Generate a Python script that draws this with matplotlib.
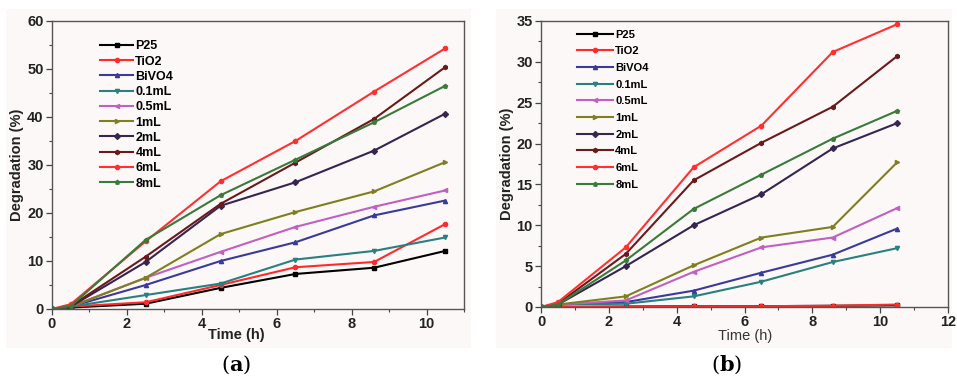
import matplotlib
matplotlib.use("Agg")
import matplotlib.pyplot as plt
from matplotlib.ticker import MultipleLocator
from matplotlib.patches import Rectangle

plt.rcParams['font.family'] = ['Liberation Sans', 'DejaVu Sans']
plt.rcParams['mathtext.fontset'] = 'dejavuserif'

time_a = [0, 0.5, 2.5, 4.5, 6.5, 8.6, 10.5]
time_b = [0, 0.5, 2.5, 4.5, 6.5, 8.6, 10.5]

labels = ["P25", "TiO2", "BiVO4", "0.1mL", "0.5mL", "1mL", "2mL", "4mL", "6mL", "8mL"]
colors = ["#000000", "#ff2a2a", "#3a3a9a", "#2a7f7f", "#c060c0", "#7f7f20",
          "#35254f", "#6a1a1a", "#ff3030", "#3a7a3a"]
markers = ["s", "o", "^", "v", "<", ">", "D", "h", "o", "p"]

# Panel (a) degradation (%)
a_P25 = [0, 0.3, 1.1, 4.4, 7.3, 8.6, 12.1]
a_TiO2 = [0, 0.5, 1.4, 5.0, 8.7, 9.8, 17.7]
a_BiVO4 = [0, 0.5, 5.0, 10.0, 13.9, 19.5, 22.6]
a_01 = [0, 0.5, 2.9, 5.3, 10.3, 12.1, 14.9]
a_05 = [0, 0.5, 6.5, 11.9, 17.1, 21.3, 24.7]
a_1 = [0, 0.5, 6.5, 15.6, 20.2, 24.5, 30.6]
a_2 = [0, 0.5, 9.8, 21.5, 26.4, 33.0, 40.7]
a_4 = [0, 0.6, 10.9, 21.9, 30.5, 39.6, 50.4]
a_6 = [0, 1.0, 14.1, 26.6, 35.0, 45.3, 54.3]
a_8 = [0, 0.6, 14.4, 23.7, 31.1, 38.9, 46.5]
series_a = [a_P25, a_TiO2, a_BiVO4, a_01, a_05, a_1, a_2, a_4, a_6, a_8]

# Panel (b) degradation (%)
b_P25 = [0, 0.0, 0.05, 0.1, 0.1, 0.15, 0.2]
b_TiO2 = [0, 0.0, 0.05, 0.1, 0.1, 0.15, 0.3]
b_BiVO4 = [0, 0.3, 0.6, 2.0, 4.2, 6.4, 9.6]
b_01 = [0, 0.3, 0.4, 1.3, 3.1, 5.5, 7.2]
b_05 = [0, 0.3, 0.8, 4.3, 7.3, 8.5, 12.1]
b_1 = [0, 0.3, 1.3, 5.1, 8.5, 9.8, 17.7]
b_2 = [0, 0.3, 5.0, 10.0, 13.8, 19.4, 22.5]
b_4 = [0, 0.4, 6.5, 15.5, 20.1, 24.5, 30.7]
b_6 = [0, 0.6, 7.3, 17.1, 22.2, 31.2, 34.6]
b_8 = [0, 0.3, 5.7, 12.0, 16.2, 20.6, 24.0]
series_b = [b_P25, b_TiO2, b_BiVO4, b_01, b_05, b_1, b_2, b_4, b_6, b_8]

W, H = 957, 379
fig = plt.figure(figsize=(W/100, H/100), dpi=100)

# light panel backgrounds (scanned figure look)
for x0, x1 in [(6, 471), (496, 952)]:
    fig.patches.append(Rectangle((x0/W, 1-348/H), (x1-x0)/W, (348-9)/H,
                                 transform=fig.transFigure, facecolor='#fcf8f8',
                                 edgecolor='none', zorder=-5))

ax1 = fig.add_axes([52/W, 1-309/H, 412/W, 288/H])
ax2 = fig.add_axes([541/W, 1-307/H, 407/W, 286/H])
for ax in (ax1, ax2):
    ax.set_facecolor('none')

def style(ax, xmax, ymax, ymaj, ymin):
    ax.set_xlim(0, xmax)
    ax.set_ylim(0, ymax)
    ax.xaxis.set_major_locator(MultipleLocator(2))
    ax.xaxis.set_minor_locator(MultipleLocator(1))
    ax.yaxis.set_major_locator(MultipleLocator(ymaj))
    ax.yaxis.set_minor_locator(MultipleLocator(ymin))
    ax.tick_params(which='major', direction='out', length=4, width=0.9, colors='#444444',
                   labelsize=10.5, labelcolor='#222222', pad=2)
    ax.tick_params(which='minor', direction='out', length=2.5, width=0.8, colors='#444444')
    for lab in ax.get_xticklabels() + ax.get_yticklabels():
        lab.set_fontweight('bold')
    for s in ax.spines.values():
        s.set_color('#555555')
        s.set_linewidth(1.0)
    ax.set_ylabel("Degradation (%)", fontsize=10.5, fontweight='bold', color='#222222', labelpad=2)

for ys, lab, c, m in zip(series_a, labels, colors, markers):
    ax1.plot(time_a, ys, color=c, lw=1.5, marker=m, ms=3, label=lab)
for ys, lab, c, m in zip(series_b, labels, colors, markers):
    ax2.plot(time_b, ys, color=c, lw=1.5, marker=m, ms=3, label=lab)

style(ax1, 11, 60, 10, 5)
style(ax2, 12, 35, 5, 2.5)

# x-axis titles placed as in the reference
fig.text(236/W, 1-335/H, "Time (h)", ha='center', va='center', fontsize=10.5,
         fontweight='bold', color='#222222')
fig.text(745/W, 1-336/H, "Time (h)", ha='center', va='center', fontsize=10.5,
         color='#333333')

ax1.legend(loc='upper left', bbox_to_anchor=(0.09, 0.972), frameon=False,
           handlelength=2.6, handletextpad=0.2, labelspacing=0.26,
           prop={'weight': 'bold', 'size': 9})
ax2.legend(loc='upper left', bbox_to_anchor=(0.065, 1.005), frameon=False,
           handlelength=3.2, handletextpad=0.2, labelspacing=0.6,
           prop={'weight': 'bold', 'size': 8})

fig.text(236/W, 1-365/H, r"$(\mathbf{a})$", ha='center', va='center', fontsize=15)
fig.text(727/W, 1-365/H, r"$(\mathbf{b})$", ha='center', va='center', fontsize=15)

fig.savefig("out.png", dpi=100)
